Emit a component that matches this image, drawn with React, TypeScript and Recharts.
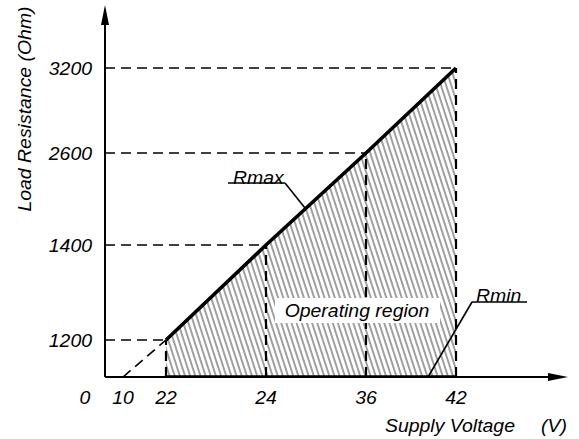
import { ComposedChart, Area, Line, XAxis, YAxis, ReferenceLine, ReferenceDot } from "recharts";

// values
const voltage = [22, 24, 36, 42];
const rmax = [1200, 1400, 2600, 3200];
const xTickValues = [0, 10, 22, 24, 36, 42];
const yTickValues = [1200, 1400, 2600, 3200];
const zeroVoltage = 10; // Rmax reaches 0 Ohm here

// the drawing is schematic: tick spacing is not proportional, so each axis
// gets a piecewise-linear placement (value -> axis units)
const X_SCHEME: [number, number][] = [[0, 0], [10, 18], [22, 61], [24, 161], [36, 261], [42, 351]];
const Y_SCHEME: [number, number][] = [[0, 0], [1200, 37], [1400, 132], [2600, 224], [3200, 309]];
const X_MAX = 463;
const Y_MAX = 372;

function warp(v: number, scheme: [number, number][]) {
  for (let i = 1; i < scheme.length; i++) {
    const [v0, p0] = scheme[i - 1];
    const [v1, p1] = scheme[i];
    if (v <= v1 || i === scheme.length - 1) return p0 + ((v - v0) * (p1 - p0)) / (v1 - v0);
  }
  return 0;
}
const wx = (v: number) => warp(v, X_SCHEME);
const wy = (v: number) => warp(v, Y_SCHEME);

const rmaxData = voltage.map((v, i) => ({ x: wx(v), y: wy(rmax[i]) }));
const extensionData = [
  { x: wx(zeroVoltage), y: 0 },
  { x: wx(voltage[0]), y: wy(rmax[0]) },
];
const rminData = [
  { x: wx(voltage[0]), y: 0 },
  { x: wx(voltage[voltage.length - 1]), y: 0 },
];

const FONT = "'Liberation Sans', Arial, sans-serif";
const xLabel = new Map(xTickValues.map((v) => [wx(v), String(v)]));
const yLabel = new Map(yTickValues.map((v) => [wy(v), String(v)]));

// the original lettering is a slightly wide italic sans
const T = ({ x, y, anchor = "start", rotate = 0, children }: any) => (
  <g transform={`translate(${x},${y}) rotate(${rotate}) scale(1.08,1)`}>
    <text x={0} y={0} textAnchor={anchor} fontFamily={FONT} fontStyle="italic" fontSize={18} fill="#000">
      {children}
    </text>
  </g>
);

const XTick = ({ x, y, payload }: any) => {
  const label = xLabel.get(payload.value) ?? "";
  return <T x={x + (label === "0" ? -20 : 0)} y={y + 27} anchor="middle">{label}</T>;
};

const YTick = ({ x, y, payload }: any) => (
  <T x={x - 13} y={y + 7} anchor="end">{yLabel.get(payload.value) ?? ""}</T>
);

const dash = "10 6";

const Arrow = ({ cx, cy, dir }: any) =>
  dir === "up" ? (
    <path d={`M${cx},${cy} L${cx - 4},${cy + 20} L${cx + 4},${cy + 20} Z`} fill="#000" />
  ) : (
    <path d={`M${cx},${cy} L${cx - 20},${cy - 4} L${cx - 20},${cy + 4} Z`} fill="#000" />
  );

const TextMark = ({ cx, cy, text, box }: any) => (
  <g>
    {box && <rect x={cx - 82} y={cy - 12} width={165} height={25} fill="#fff" />}
    <T x={cx} y={cy + 7} anchor={box ? "middle" : "start"}>{text}</T>
  </g>
);

export default function App() {
  return (
    <div style={{ position: "absolute", left: 0, top: 0 }}>
      <ComposedChart width={579} height={439} margin={{ top: 5, right: 11, bottom: 0, left: 0 }}>
        <defs>
          <pattern id="hatch" patternUnits="userSpaceOnUse" width="4.9" height="10" patternTransform="rotate(-18)">
            <line x1="1" y1="0" x2="1" y2="10" stroke="#000" strokeWidth="0.75" />
          </pattern>
        </defs>
        <XAxis
          type="number"
          dataKey="x"
          domain={[0, X_MAX]}
          allowDataOverflow
          ticks={xTickValues.map(wx)}
          tick={<XTick />}
          axisLine={false}
          tickLine={false}
          tickSize={0}
          tickMargin={0}
          height={62}
          interval={0}
        />
        <YAxis
          type="number"
          dataKey="y"
          domain={[0, Y_MAX]}
          allowDataOverflow
          ticks={yTickValues.map(wy)}
          tick={<YTick />}
          axisLine={false}
          tickLine={false}
          tickSize={0}
          tickMargin={0}
          width={105}
          interval={0}
        />

        <Area data={rmaxData} dataKey="y" type="linear" stroke="none" fill="url(#hatch)" fillOpacity={1} baseValue={0} isAnimationActive={false} />

        {voltage.map((v, i) => (
          <ReferenceLine key={"h" + v} segment={[{ x: 0, y: wy(rmax[i]) }, { x: wx(v), y: wy(rmax[i]) }]} stroke="#000" strokeWidth={1.6} strokeDasharray={dash} />
        ))}
        {voltage.map((v, i) => (
          <ReferenceLine key={"v" + v} segment={[{ x: wx(v), y: 0 }, { x: wx(v), y: wy(rmax[i]) }]} stroke="#000" strokeWidth={2.2} strokeDasharray={dash} />
        ))}

        <Line data={extensionData} dataKey="y" type="linear" stroke="#000" strokeWidth={1.6} strokeDasharray={dash} dot={false} isAnimationActive={false} />

        {/* axes with arrow heads */}
        <ReferenceLine segment={[{ x: 0, y: 0 }, { x: 0, y: Y_MAX - 10 }]} stroke="#000" strokeWidth={2} />
        <ReferenceLine segment={[{ x: 0, y: 0 }, { x: X_MAX - 10, y: 0 }]} stroke="#000" strokeWidth={2} />
        <ReferenceDot x={0} y={Y_MAX} r={0} shape={<Arrow dir="up" />} ifOverflow="visible" />
        <ReferenceDot x={X_MAX} y={0} r={0} shape={<Arrow dir="right" />} ifOverflow="visible" />

        <Line data={rmaxData} dataKey="y" type="linear" stroke="#000" strokeWidth={3.6} dot={false} isAnimationActive={false} />
        <Line data={rminData} dataKey="y" type="linear" stroke="#000" strokeWidth={3.6} dot={false} isAnimationActive={false} />

        {/* annotation leaders */}
        <ReferenceLine segment={[{ x: 200, y: 169 }, { x: 180, y: 194 }]} stroke="#000" strokeWidth={1.6} />
        <ReferenceLine segment={[{ x: 180, y: 194 }, { x: 123, y: 194 }]} stroke="#000" strokeWidth={1.6} />
        <ReferenceLine segment={[{ x: 323, y: 0 }, { x: 367, y: 75 }]} stroke="#000" strokeWidth={1.6} />
        <ReferenceLine segment={[{ x: 367, y: 75 }, { x: 422, y: 75 }]} stroke="#000" strokeWidth={1.6} />

        <ReferenceDot x={128} y={200} r={0} shape={<TextMark text="Rmax" />} ifOverflow="visible" />
        <ReferenceDot x={371} y={82} r={0} shape={<TextMark text="Rmin" />} ifOverflow="visible" />
        <ReferenceDot x={252} y={67} r={0} shape={<TextMark text="Operating region" box />} ifOverflow="visible" />

        <T x={31} y={109} rotate={-90} anchor="middle">Load Resistance (Ohm)</T>
        <T x={385} y={432}>Supply Voltage</T>
        <T x={567} y={432} anchor="end">(V)</T>
      </ComposedChart>
    </div>
  );
}
